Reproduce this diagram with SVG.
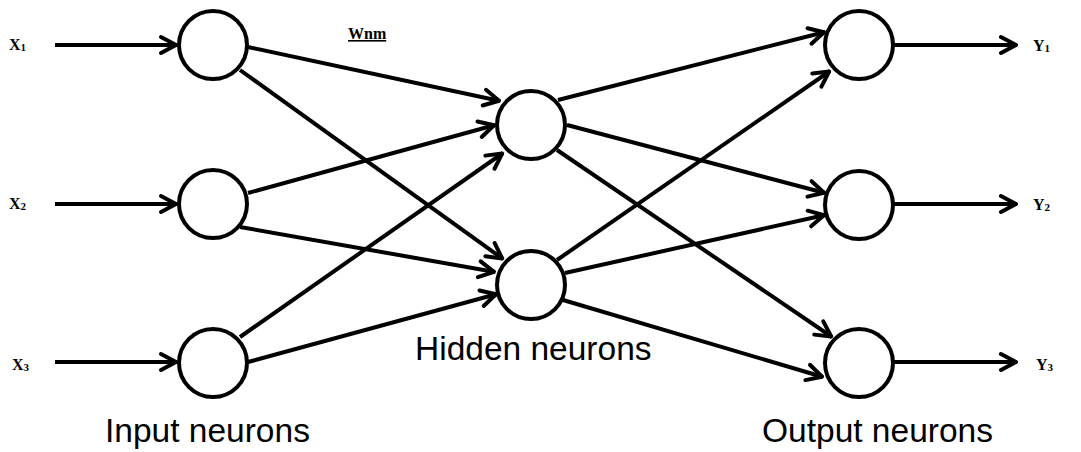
<svg xmlns="http://www.w3.org/2000/svg" width="1081" height="452" viewBox="0 0 1081 452">
  <style>
    .neuron { fill: #ffffff; stroke: #000000; stroke-width: 4; }
    .conn { stroke: #000000; stroke-width: 4; fill: none; marker-end: url(#arrow); }
    .var { font-family: "Liberation Serif", "Times New Roman", serif; font-weight: bold; font-size: 16px; fill: #000000; }
    .sub { font-size: 11px; }
    .layer { font-family: "Liberation Sans", Arial, sans-serif; font-size: 33.5px; fill: #000000; }
  </style>
  <defs>
    <marker id="arrow" markerUnits="userSpaceOnUse" viewBox="-20 -12 24 24" markerWidth="24" markerHeight="24" refX="0" refY="0" orient="auto">
      <path d="M-16,-8 L-1,0 L-16,8" fill="none" stroke="#000000" stroke-width="4" stroke-linejoin="round" stroke-linecap="round"/>
    </marker>
  </defs>
  <rect width="1081" height="452" fill="#ffffff"/>

  <g id="connectors">
    <line class="conn" x1="55" y1="45" x2="177" y2="45"/>
    <line class="conn" x1="55" y1="204" x2="177" y2="204"/>
    <line class="conn" x1="55" y1="362" x2="177" y2="362"/>

    <line class="conn" x1="248" y1="47" x2="500" y2="101"/>
    <line class="conn" x1="240" y1="70" x2="503" y2="259"/>
    <line class="conn" x1="248" y1="193" x2="495" y2="125"/>
    <line class="conn" x1="240" y1="227" x2="495" y2="272"/>
    <line class="conn" x1="240" y1="337" x2="503" y2="153"/>
    <line class="conn" x1="248" y1="362" x2="497" y2="294"/>

    <line class="conn" x1="558" y1="100" x2="825" y2="32"/>
    <line class="conn" x1="567" y1="125" x2="825" y2="193"/>
    <line class="conn" x1="557" y1="150" x2="832" y2="337"/>
    <line class="conn" x1="557" y1="260" x2="830" y2="71"/>
    <line class="conn" x1="565" y1="273" x2="825" y2="215"/>
    <line class="conn" x1="563" y1="300" x2="823" y2="377"/>

    <line class="conn" x1="893" y1="45" x2="1017" y2="45"/>
    <line class="conn" x1="893" y1="204" x2="1017" y2="204"/>
    <line class="conn" x1="893" y1="362" x2="1017" y2="362"/>
  </g>

  <g id="input1"><circle class="neuron" cx="213" cy="45" r="34"/></g>
  <g id="input2"><circle class="neuron" cx="213" cy="204" r="34"/></g>
  <g id="input3"><circle class="neuron" cx="213" cy="363" r="34"/></g>
  <g id="hidden1"><circle class="neuron" cx="531" cy="125" r="34"/></g>
  <g id="hidden2"><circle class="neuron" cx="531" cy="285" r="34"/></g>
  <g id="output1"><circle class="neuron" cx="859" cy="45" r="34"/></g>
  <g id="output2"><circle class="neuron" cx="859" cy="205" r="34"/></g>
  <g id="output3"><circle class="neuron" cx="859" cy="363" r="34"/></g>

  <g id="labels">
    <text class="var" x="9" y="50">X<tspan class="sub" dy="1">1</tspan></text>
    <text class="var" x="9" y="209">X<tspan class="sub" dy="1">2</tspan></text>
    <text class="var" x="12" y="370">X<tspan class="sub" dy="1">3</tspan></text>
    <text class="var" x="1033" y="51">Y<tspan class="sub" dy="1">1</tspan></text>
    <text class="var" x="1033" y="210">Y<tspan class="sub" dy="1">2</tspan></text>
    <text class="var" x="1036" y="370">Y<tspan class="sub" dy="1">3</tspan></text>
    <text class="var" x="348" y="39" text-decoration="underline">Wnm</text>
    <text class="layer" x="105" y="442">Input neurons</text>
    <text class="layer" x="415" y="360">Hidden neurons</text>
    <text class="layer" x="762" y="442">Output neurons</text>
  </g>
</svg>
